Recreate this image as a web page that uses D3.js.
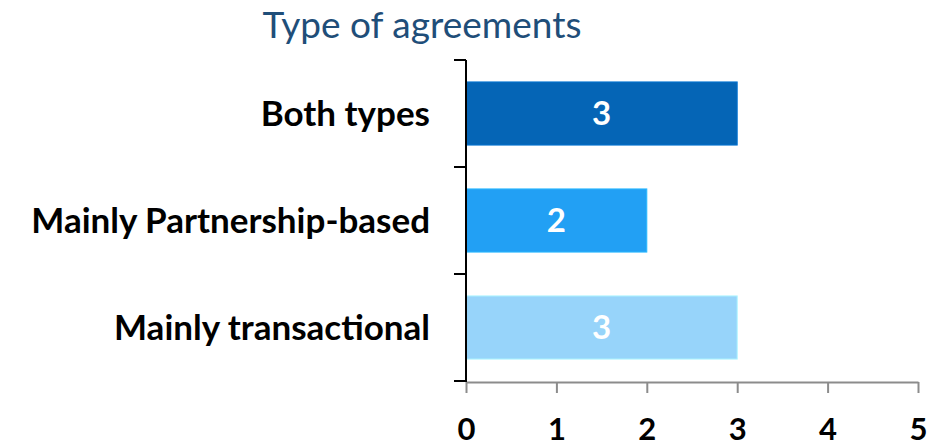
<!DOCTYPE html>
<html>
<head>
<meta charset="utf-8">
<title>Type of agreements</title>
<script src="https://cdn.jsdelivr.net/npm/d3@7"></script>
<style>
  body { margin: 0; background: #fff; }
  svg text { font-family: Lato, "Open Sans", sans-serif; }
  .title { font-size: 37px; fill: #1f4e79; }
  .cat { font-size: 35px; font-weight: bold; fill: #000; }
  .val { font-size: 33px; font-weight: bold; fill: #fff; }
  .axis--x text { font-size: 31px; font-weight: bold; fill: #000; }
</style>
</head>
<body>
<svg id="chart" width="943" height="447"></svg>
<script>
// data
var categories = ["Both types", "Mainly Partnership-based", "Mainly transactional"];
var values = [3, 2, 3];
var colors = ["#0565b6", "#22a0f4", "#97d4fa"];
var xTicks = [0, 1, 2, 3, 4, 5];

var svg = d3.select("#chart");

var x = d3.scaleLinear().domain([0, 5]).range([466, 918]);
var y = d3.scaleBand().domain(categories).range([60, 381]).paddingInner(0.41).paddingOuter(0.205);

svg.append("text")
  .attr("class", "title")
  .attr("x", 422)
  .attr("y", 38)
  .attr("text-anchor", "middle")
  .text("Type of agreements");

// bars
svg.selectAll(".bar")
  .data(categories)
  .enter().append("rect")
  .attr("class", "bar")
  .attr("x", x(0))
  .attr("y", function (d) { return y(d); })
  .attr("width", function (d, i) { return x(values[i]) - x(0); })
  .attr("height", y.bandwidth())
  .attr("fill", function (d, i) { return colors[i]; })
  .attr("stroke", function (d, i) { return d3.color(colors[i]).brighter(0.4); })
  .attr("stroke-width", 1);

svg.selectAll(".val")
  .data(categories)
  .enter().append("text")
  .attr("class", "val")
  .attr("x", function (d, i) { return (x(0) + x(values[i])) / 2; })
  .attr("y", function (d) { return y(d) + y.bandwidth() / 2; })
  .attr("dy", "0.36em")
  .attr("text-anchor", "middle")
  .text(function (d, i) { return values[i]; });

// category labels
svg.selectAll(".cat")
  .data(categories)
  .enter().append("text")
  .attr("class", "cat")
  .attr("x", 430)
  .attr("y", function (d) { return y(d) + y.bandwidth() / 2; })
  .attr("dy", "0.36em")
  .attr("text-anchor", "end")
  .text(function (d) { return d; });

// x axis
var gx = svg.append("g")
  .attr("class", "axis axis--x")
  .attr("transform", "translate(0,382)")
  .call(d3.axisBottom(x).tickValues(xTicks).tickFormat(d3.format("d")).tickSize(11).tickSizeOuter(0));
gx.select(".domain").attr("stroke", "#8c8c8c").attr("stroke-width", 2);
gx.selectAll(".tick line").attr("stroke", "#8c8c8c").attr("stroke-width", 2);
gx.selectAll("text")
  .attr("font-family", "Lato, 'Open Sans', sans-serif")
  .attr("y", 58)
  .attr("dy", null);

// y axis line with boundary ticks
var boundaries = [60].concat(categories.map(function (d) { return y(d) + y.bandwidth() + y.step() * y.paddingInner() / 2; }));
boundaries[boundaries.length - 1] = 381;
svg.append("line")
  .attr("x1", x(0)).attr("x2", x(0))
  .attr("y1", 60).attr("y2", 382)
  .attr("stroke", "#000").attr("stroke-width", 2);
svg.selectAll(".ytick")
  .data(boundaries)
  .enter().append("line")
  .attr("class", "ytick")
  .attr("x1", x(0) - 12).attr("x2", x(0))
  .attr("y1", function (d) { return d; })
  .attr("y2", function (d) { return d; })
  .attr("stroke", "#000").attr("stroke-width", 2);
</script>
</body>
</html>
